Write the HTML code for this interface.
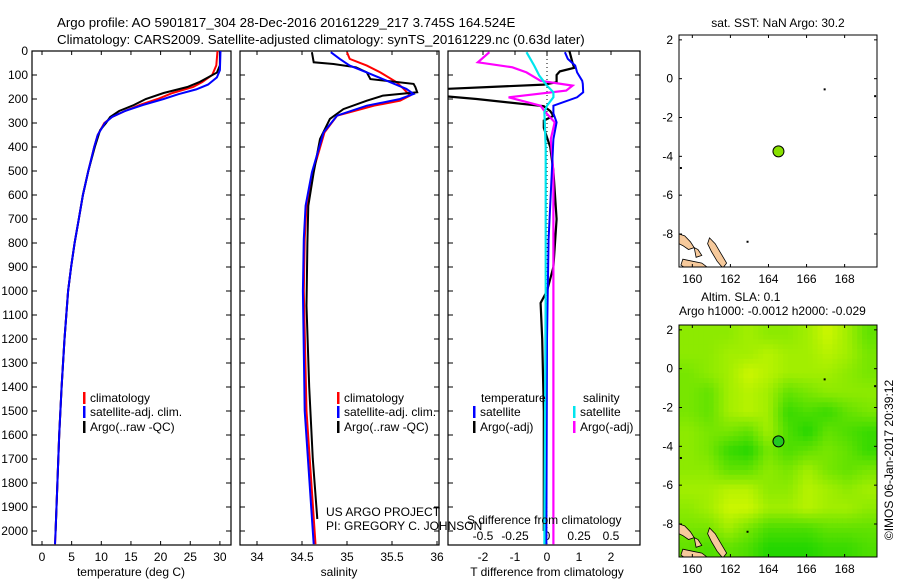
<!DOCTYPE html>
<html><head><meta charset="utf-8"><style>
html,body{margin:0;padding:0;background:#fff;}
svg{display:block;font-family:"Liberation Sans",sans-serif;}
</style></head><body>
<svg id="fig" width="900" height="580" viewBox="0 0 900 580" xmlns="http://www.w3.org/2000/svg">
<text x="57" y="27" font-size="13.3">Argo profile: AO 5901817_304 28-Dec-2016 20161229_217 3.745S 164.524E</text>
<text x="57" y="44" font-size="13.3">Climatology: CARS2009. Satellite-adjusted climatology: synTS_20161229.nc (0.63d later)</text>
<g id="g"></g>
</svg>
<script>
// ---- data ----
const tClimD=[0,60,100,130,150,175,200,225,250,275,300,350,400,500,600,700,800,900,1000,1200,1400,1600,1800,2000,2055];
const tClim=[29.6,29.4,28.7,27,25.5,22,19.5,16.5,14,11.8,10.5,9.4,8.8,7.8,6.9,6.2,5.5,4.9,4.4,3.8,3.3,2.9,2.6,2.3,2.2];
const tSatD=[0,80,110,140,160,180,200,225,250,275,300,350,400,500,600,700,800,900,1000,1200,1400,1600,1800,2000,2055];
const tSat=[30.1,30,29.5,28,26,23,20.5,17,14,11.8,10.6,9.4,8.8,7.8,6.9,6.2,5.5,4.9,4.4,3.8,3.3,2.9,2.6,2.3,2.2];
const tArgoD=[0,60,90,130,150,175,200,225,250,275,300,330,400,500,600,700,800,900,1000,1200,1400,1600,1800,2000];
const tArgo=[30,30,29.5,26.5,24.5,20.5,17.5,15.5,13,11.5,10.8,9.8,8.9,7.8,6.9,6.2,5.5,4.9,4.4,3.8,3.3,2.9,2.6,2.3];
const sArgoD=[5,47,54,68,89,117,137,151,172,186,207,242,283,367,506,645,800,1061,1400,1700,1950];
const sArgo=[34.61,34.63,34.85,35.1,35.22,35.26,35.74,35.76,35.78,35.4,35.22,34.96,34.81,34.7,34.63,34.57,34.56,34.55,34.58,34.62,34.67];
const sSatD=[5,33,61,89,130,158,179,200,228,269,339,506,645,783,1000,1500,2000,2055];
const sSat=[34.82,34.92,35.03,35.22,35.48,35.66,35.74,35.59,35.22,34.89,34.74,34.61,34.54,34.52,34.51,34.53,34.62,34.63];
const sClimD=[5,33,61,89,130,158,186,207,228,269,339,506,645,783,1000,1500,2000,2055];
const sClim=[35.0,35.03,35.22,35.37,35.55,35.63,35.7,35.59,35.3,34.89,34.75,34.62,34.55,34.53,34.52,34.55,34.64,34.65];
const dTSatD=[5,33,61,89,124,137,172,193,228,260,297,367,506,783,1200,2000,2055];
const dTSat=[0.56,0.65,0.88,0.94,1.1,1.12,1.13,0.94,0.2,0.2,0.3,0.2,0.15,0.05,0,-0.02,-0.02];
const dTArgoD=[0,50,70,85,100,130,140,150,160,185,200,230,250,270,290,320,400,500,700,900,1000,1050,1200,1500,2000];
const dTArgo=[0.7,0.8,0.85,0.4,0.3,0.3,-0.1,-1.8,-3.5,-3.5,-2.2,-0.1,0.1,0.2,-0.1,-0.1,0.1,0.2,0.3,0.2,0,-0.2,-0.15,-0.1,-0.1];
const dSArgoD=[5,47,68,89,124,144,165,193,228,250,297,367,506,1000,2000,2055];
const dSArgo=[-0.45,-0.54,-0.27,-0.16,-0.05,0.2,0.15,-0.3,-0.05,-0.02,0.06,0.03,0.05,0.05,0.05,0.05];
const dSSatD=[5,61,103,144,172,193,228,255,400,1000,2000,2055];
const dSSat=[-0.16,-0.1,-0.06,0,0.05,0.05,0,-0.02,-0.01,-0.01,-0.02,-0.02];
const depthTicks=[0,100,200,300,400,500,600,700,800,900,1000,1100,1200,1300,1400,1500,1600,1700,1800,1900,2000];
const tempTicks=[0,5,10,15,20,25,30];
const salTicks=[34,34.5,35,35.5,36];
const dTTicks=[-2,-1,0,1,2];
const dSTicks=[-0.5,-0.25,0,0.25,0.5];
const dSTickLabels=["-0.5","-0.25","0","0.25","0.5"];
const lonTicks=[160,162,164,166,168];
const latTicks=[2,0,-2,-4,-6,-8];
const argoLon=164.524, argoLat=-3.745;
const slaGrid=[
[0.4,0.4,0.4,0.3,0.4,0.4,0.3,0.1,0.3,0.6],
[0.4,0.4,0.3,0.3,0.2,0.3,0.3,0.2,0.3,0.5],
[0.5,0.4,0.3,0.1,0.2,0.3,0.3,0.3,0.4,0.5],
[0.5,0.6,0.3,0.2,0.3,0.6,0.5,0.4,0.4,0.4],
[0.5,0.6,0.3,0.2,0.3,0.8,0.7,0.8,0.6,0.5],
[0.4,0.5,0.5,0.6,0.3,0.7,0.9,0.6,0.7,0.8],
[0.4,0.5,0.8,0.9,0.5,0.7,0.6,0.5,0.6,0.8],
[0.4,0.4,0.6,0.6,0.4,0.5,0.3,0.5,0.6,0.5],
[0.3,0.3,0.2,0.2,0.4,0.4,0.2,0.3,0.4,0.3],
[0.4,0.3,0.1,0.1,0.3,0.3,0.2,0.3,0.3,0.4],
[0.5,0.5,0.3,0.5,0.7,0.7,0.7,0.6,0.6,0.6],
[0.6,0.7,0.6,0.7,0.9,0.9,0.9,0.8,0.8,0.7]];

// ---- helpers ----
const NS="http://www.w3.org/2000/svg";
const G=document.getElementById('g');
function mk(tag,attrs,parent){const e=document.createElementNS(NS,tag);for(const k in attrs)e.setAttribute(k,attrs[k]);(parent||G).appendChild(e);return e;}
const TOP=51, PXD=0.24, BOT=545;
const yD=d=>TOP+d*PXD;
const xT=t=>42+t*5.93;
const xS=s=>257+(s-34)*90;
const xdT=v=>547+v*32;
const xdS=v=>547+v*128;

const defs=mk('defs',{});
[[32,231,'c1'],[240,439,'c2'],[448,640,'c3']].forEach(([a,b,id])=>{const c=mk('clipPath',{id},defs);mk('rect',{x:a,y:TOP,width:b-a,height:BOT-TOP},c);});

function panel(x0,x1,name){
  const r=mk('rect',{x:x0,y:TOP,width:x1-x0,height:BOT-TOP,fill:'none',stroke:'#000','stroke-width':1.2});
  
  
  depthTicks.forEach(d=>{mk('line',{x1:x0,x2:x0+5,y1:yD(d),y2:yD(d),stroke:'#000'});mk('line',{x1:x1-5,x2:x1,y1:yD(d),y2:yD(d),stroke:'#000'});});
}
function line(ds,vs,fx,color,w,clip,name){
  let p='';
  for(let i=0;i<ds.length;i++){p+=(i?'L':'M')+fx(vs[i]).toFixed(1)+','+yD(ds[i]).toFixed(1);}
  const e=mk('path',{d:p,fill:'none',stroke:color,'stroke-width':w,'clip-path':'url(#'+clip+')'});
  
  
}
function txt(x,y,s,opts){const e=mk('text',Object.assign({x,y,'font-size':12},opts||{}));e.textContent=s;return e;}

panel(32,231,'temperature-panel');
panel(240,439,'salinity-panel');
panel(448,640,'difference-panel');
depthTicks.forEach(d=>{
  const e=txt(28,yD(d)+4,String(d),{'text-anchor':'end'});
  
  
});
tempTicks.forEach(t=>{mk('line',{x1:xT(t),x2:xT(t),y1:TOP,y2:TOP+4,stroke:'#000'});mk('line',{x1:xT(t),x2:xT(t),y1:BOT-4,y2:BOT,stroke:'#000'});
  const e=txt(xT(t),561,String(t),{'text-anchor':'middle'});});
salTicks.forEach(s=>{mk('line',{x1:xS(s),x2:xS(s),y1:TOP,y2:TOP+4,stroke:'#000'});mk('line',{x1:xS(s),x2:xS(s),y1:BOT-4,y2:BOT,stroke:'#000'});
  const e=txt(xS(s),561,String(s),{'text-anchor':'middle'});});
dTTicks.forEach(v=>{mk('line',{x1:xdT(v),x2:xdT(v),y1:TOP,y2:TOP+4,stroke:'#000'});
  const e=txt(xdT(v),561,String(v),{'text-anchor':'middle'});});
dSTicks.forEach((v,i)=>{const e=txt(xdS(v),540,dSTickLabels[i],{'text-anchor':'middle'});});
mk('line',{x1:547,x2:547,y1:TOP,y2:BOT,stroke:'#000','stroke-dasharray':'1,3'});

line(tClimD,tClim,xT,'#ff0000',2,'c1','temperature-climatology-line');
line(tArgoD,tArgo,xT,'#000',2,'c1','temperature-argo-line');
line(tSatD,tSat,xT,'#0000ff',2,'c1','temperature-satellite-line');
line(sClimD,sClim,xS,'#ff0000',2,'c2','salinity-climatology-line');
line(sArgoD,sArgo,xS,'#000',2,'c2','salinity-argo-line');
line(sSatD,sSat,xS,'#0000ff',2,'c2','salinity-satellite-line');
line(dTArgoD,dTArgo,xdT,'#000',2.2,'c3','t-diff-argo-line');
line(dSArgoD,dSArgo,xdS,'#ff00ff',2.2,'c3','s-diff-argo-line');
line(dTSatD,dTSat,xdT,'#0000ff',2,'c3','t-diff-satellite-line');
line(dSSatD,dSSat,xdS,'#00e5ee',2.2,'c3','s-diff-satellite-line');

[[131,'temperature (deg C)','x-axis-title-temperature'],[339,'salinity','x-axis-title-salinity'],[547,'T difference from climatology','x-axis-title-t-diff']].forEach(([x,s,n])=>{
  const e=txt(x,576,s,{'text-anchor':'middle'});});
{const e=txt(467,524,'S difference from climatology');}
{const e=txt(326,516,'US ARGO PROJECT');}
{const e=txt(326,530,'PI: GREGORY C. JOHNSON');}

function legend(x,y,color,label){
  mk('rect',{x:x,y:y-10,width:2.5,height:12,fill:color});
  const e=txt(x+7,y,label);
  
  
}
legend(83,402,'#ff0000','climatology');legend(83,416,'#0000ff','satellite-adj. clim.');legend(83,431,'#000','Argo(..raw -QC)');
legend(337,402,'#ff0000','climatology');legend(337,416,'#0000ff','satellite-adj. clim.');legend(337,431,'#000','Argo(..raw -QC)');
{const e=txt(481,402,'temperature');}
{const e=txt(583,402,'salinity');}
legend(473,416,'#0000ff','satellite');legend(473,431,'#000','Argo(-adj)');
legend(573,416,'#00e5ee','satellite');legend(573,431,'#ff00ff','Argo(-adj)');

// ---- maps ----
const LON0=159.3,LON1=169.7,LAT0=2.25,LAT1=-9.7,MX0=679,MX1=877;
function mapAxes(top,bot){
  const xL=lon=>MX0+(lon-LON0)/(LON1-LON0)*(MX1-MX0);
  const yL=lat=>top+(LAT0-lat)/(LAT0-LAT1)*(bot-top);
  return {xL,yL};
}
function coast(m,clip){
  const g=mk('g',{'clip-path':'url(#'+clip+')'});
  const shapes=[[[159.3,-8.0],[159.6,-8.1],[159.9,-8.4],[160.1,-8.7],[159.8,-8.8],[159.5,-8.6],[159.3,-8.5]],
    [[160.9,-8.2],[161.2,-8.5],[161.5,-9.0],[161.8,-9.5],[161.6,-9.75],[161.3,-9.4],[161.0,-8.9],[160.8,-8.5]],
    [[159.5,-9.3],[160.0,-9.4],[160.5,-9.5],[160.9,-9.8],[159.7,-9.8],[159.4,-9.6]],
    [[160.1,-8.7],[160.3,-8.8],[160.5,-9.1],[160.2,-9.2]]];
  shapes.forEach(s=>{mk('polygon',{points:s.map(p=>m.xL(p[0]).toFixed(1)+','+m.yL(p[1]).toFixed(1)).join(' '),fill:'#f6c99b',stroke:'#000','stroke-width':0.8},g);});
  [[166.95,-0.55],[162.9,-8.4],[169.6,-0.9],[159.4,-4.6]].forEach(p=>mk('rect',{x:m.xL(p[0])-1,y:m.yL(p[1])-1,width:2,height:2,fill:'#000'},g));
}
function mapFrame(m,top,bot,name){
  const r=mk('rect',{x:MX0,y:top,width:MX1-MX0,height:bot-top,fill:'none',stroke:'#000','stroke-width':1});
  
  
  lonTicks.forEach(l=>{mk('line',{x1:m.xL(l),x2:m.xL(l),y1:top,y2:top+3,stroke:'#000'});mk('line',{x1:m.xL(l),x2:m.xL(l),y1:bot-3,y2:bot,stroke:'#000'});
    const e=txt(m.xL(l),bot+16,String(l),{'text-anchor':'middle'});});
  latTicks.forEach(l=>{mk('line',{x1:MX0,x2:MX0+3,y1:m.yL(l),y2:m.yL(l),stroke:'#000'});mk('line',{x1:MX1-3,x2:MX1,y1:m.yL(l),y2:m.yL(l),stroke:'#000'});
    const e=txt(MX0-6,m.yL(l)+4,String(l),{'text-anchor':'end'});});
}
[[35,267,'m1'],[325,557,'m2']].forEach(([t,b,id])=>{const c=mk('clipPath',{id},defs);mk('rect',{x:MX0,y:t,width:MX1-MX0,height:b-t},c);});

const m1=mapAxes(35,267);
coast(m1,'m1');
{const c=mk('circle',{cx:m1.xL(argoLon),cy:m1.yL(argoLat),r:5.5,fill:'#88e000',stroke:'#000','stroke-width':1});}
mapFrame(m1,35,267,'sst-map');
{const e=txt(778,27,'sat. SST: NaN Argo: 30.2',{'text-anchor':'middle'});}
{const e=txt(701,301,'Altim. SLA: 0.1');}
{const e=txt(679,315,'Argo h1000: -0.0012 h2000: -0.029');}

const m2=mapAxes(325,557);
const rows=slaGrid.length, cols=slaGrid[0].length;
const SUB=4;
function sample(r,c){
  const r0=Math.max(0,Math.min(rows-1,Math.floor(r))), c0=Math.max(0,Math.min(cols-1,Math.floor(c)));
  const r1=Math.min(rows-1,r0+1), c1=Math.min(cols-1,c0+1);
  const fr=Math.max(0,Math.min(1,r-r0)), fc=Math.max(0,Math.min(1,c-c0));
  const a=slaGrid[r0][c0]*(1-fc)+slaGrid[r0][c1]*fc, b=slaGrid[r1][c0]*(1-fc)+slaGrid[r1][c1]*fc;
  return a*(1-fr)+b*fr;
}
const hg=mk('g',{'clip-path':'url(#m2)'});


for(let i=0;i<rows*SUB;i++)for(let j=0;j<cols*SUB;j++){
  const v=sample((i+0.5)/SUB-0.5,(j+0.5)/SUB-0.5);
  const lonA=LON0+j*(LON1-LON0)/(cols*SUB), lonB=LON0+(j+1)*(LON1-LON0)/(cols*SUB);
  const latA=LAT0-i*(LAT0-LAT1)/(rows*SUB), latB=LAT0-(i+1)*(LAT0-LAT1)/(rows*SUB);
  const col='rgb('+Math.round(225-210*v)+','+Math.round(250-40*v)+',0)';
  const c=mk('rect',{x:m2.xL(lonA).toFixed(1),y:m2.yL(latA).toFixed(1),width:(m2.xL(lonB)-m2.xL(lonA)+0.6).toFixed(1),height:(m2.yL(latB)-m2.yL(latA)+0.6).toFixed(1),fill:col},hg);
  
  
}
coast(m2,'m2');
{const c=mk('circle',{cx:m2.xL(argoLon),cy:m2.yL(argoLat),r:5.5,fill:'#22c822',stroke:'#000','stroke-width':1});}
mapFrame(m2,325,557,'sla-map');

{const e=txt(0,0,'©IMOS 06-Jan-2017 20:39:12',{'text-anchor':'middle',transform:'translate(893,460) rotate(-90)'});}
</script>
</body></html>
